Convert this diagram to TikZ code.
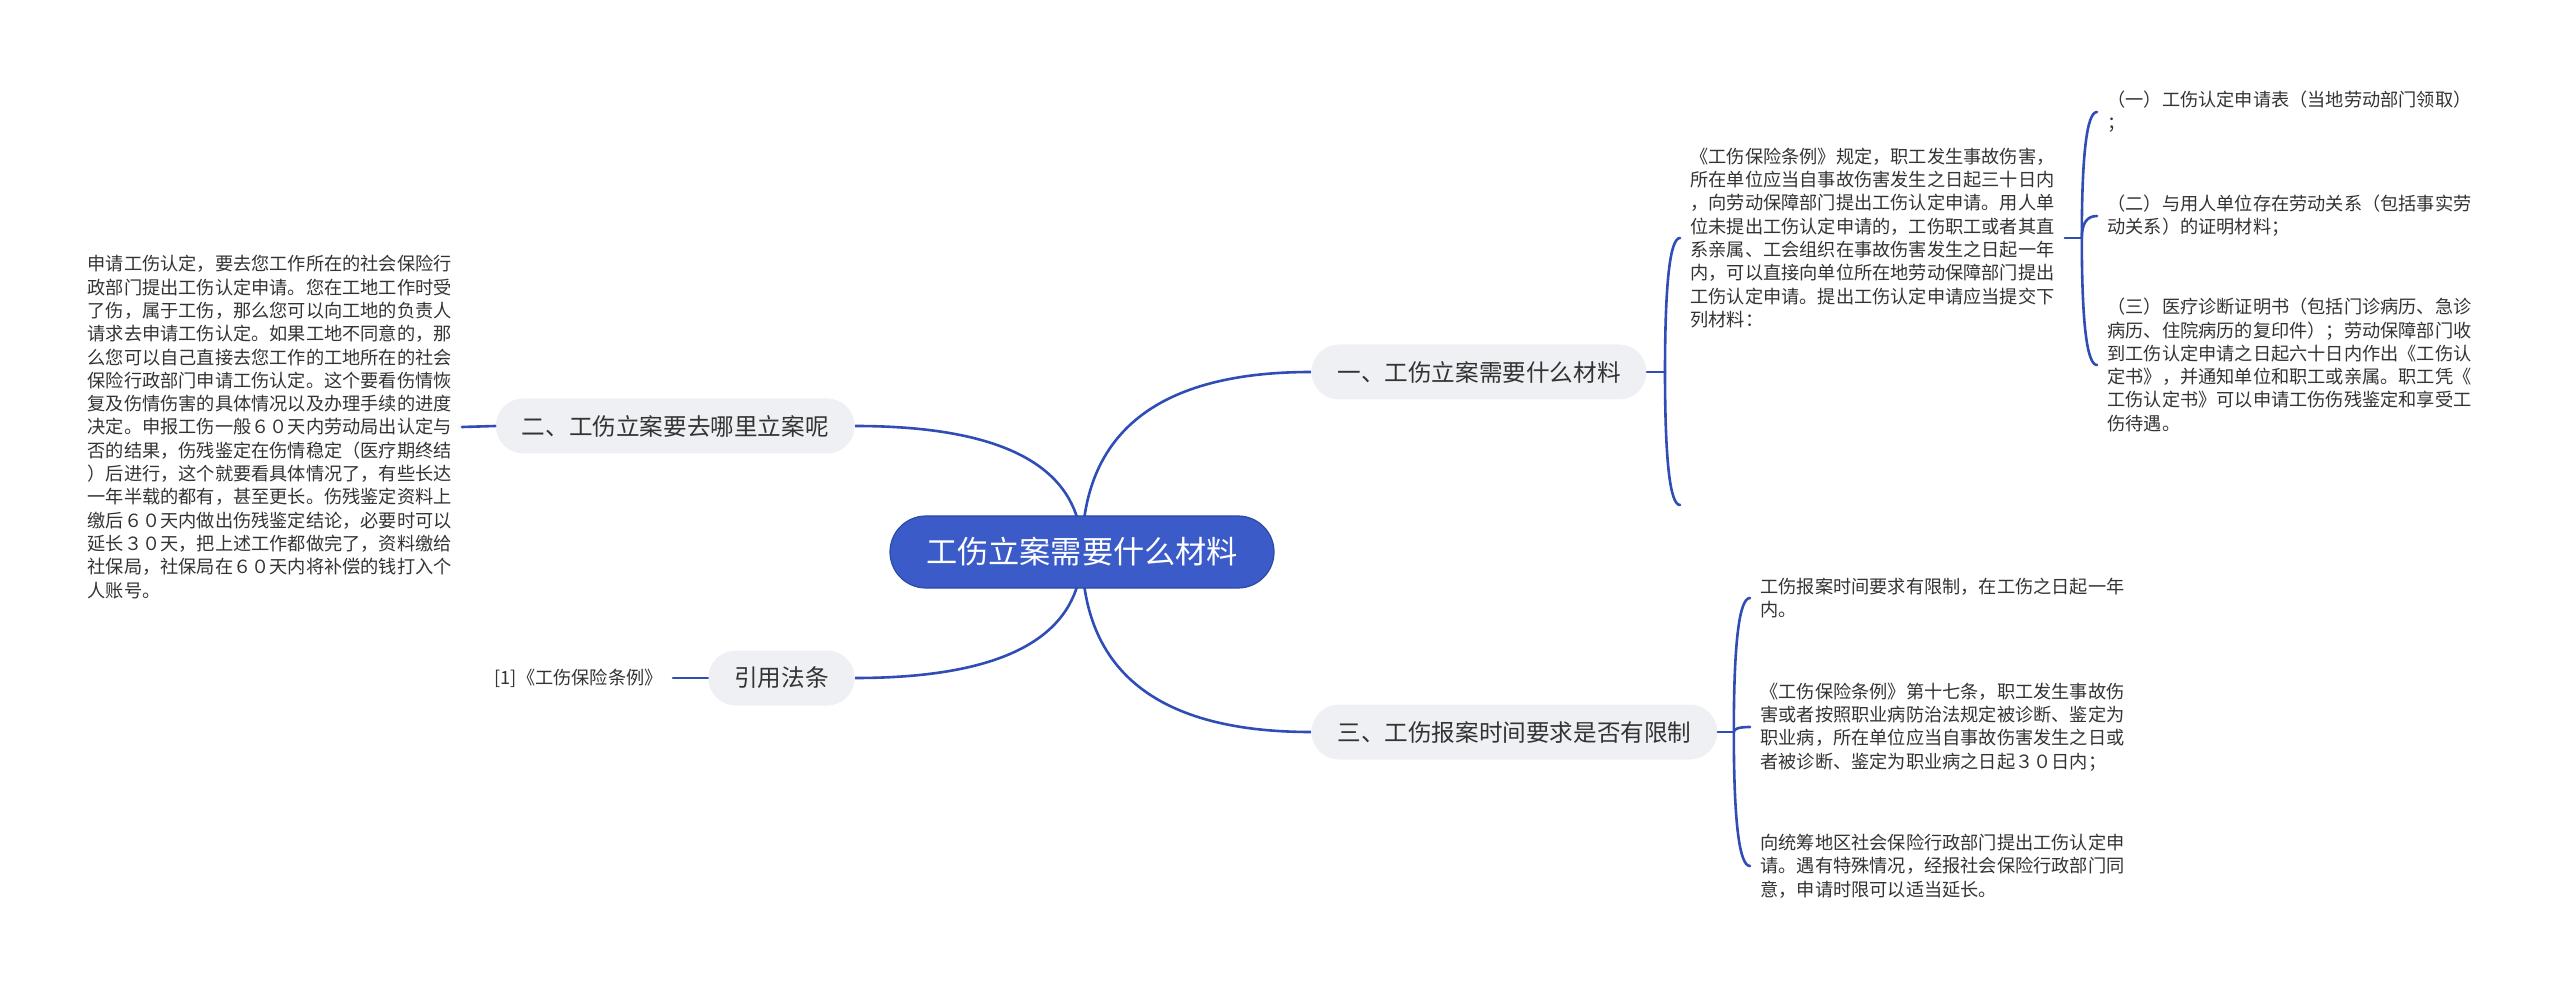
\documentclass[tikz,border=0pt]{standalone}
\usepackage{fontspec}
\newfontfamily\cjk{Noto Sans CJK SC}
\usetikzlibrary{calc,backgrounds}
\definecolor{linkblue}{HTML}{2F4DB4}
\definecolor{rootblue}{HTML}{3B5BC8}
\definecolor{rootedge}{HTML}{2C48A8}
\definecolor{pillgray}{HTML}{EEF0F4}
\definecolor{inkgray}{HTML}{333333}
\tikzset{
  root/.style={rectangle, rounded corners=18pt, fill=rootblue, draw=rootedge, line width=0.6pt,
    text=white, font=\cjk\fontsize{15.6pt}{18pt}\selectfont, minimum height=36pt, inner xsep=18pt, inner ysep=0pt},
  topic/.style={rectangle, rounded corners=13.75pt, fill=pillgray, text=inkgray,
    font=\cjk\fontsize{11.8pt}{14pt}\selectfont, minimum height=27.5pt, inner xsep=13pt, inner ysep=0pt},
  leaf/.style={align=left, text=inkgray, font=\cjk\fontsize{9.1pt}{11.65pt}\selectfont, inner sep=5pt},
  link/.style={draw=linkblue, line width=1.3pt},
  qlink/.style={to path={.. controls ($(\tikztostart)!2/3!(\tikztostart |- \tikztotarget)$)
    and ($(\tikztotarget)!2/3!(\tikztostart |- \tikztotarget)$) .. (\tikztotarget)}}
}
\begin{document}
\begin{tikzpicture}[x=0.5pt,y=-0.5pt,line cap=round,line join=round]
  \useasboundingbox (0,0) rectangle (2560,989);
  \node[root] (root) at (1082,552) {工伤立案需要什么材料};
  \node[topic,anchor=west] (b1) at (1311,372) {一、工伤立案需要什么材料};
  \node[topic,anchor=east] (b2) at (855,426) {二、工伤立案要去哪里立案呢};
  \node[topic,anchor=west] (b3) at (1311,732) {三、工伤报案时间要求是否有限制};
  \node[topic,anchor=east] (b4) at (855,678) {引用法条};
  \begin{scope}[on background layer]
    \draw[link] (root.center) to[qlink] (b1.west);
    \draw[link] (root.center) to[qlink] (b2.east);
    \draw[link] (root.center) to[qlink] (b3.west);
    \draw[link] (root.center) to[qlink] (b4.east);
  \end{scope}

  \node[leaf,anchor=west] (c1) at (1680,238) {《工伤保险条例》规定，职工发生事故伤害，\\所在单位应当自事故伤害发生之日起三十日内\\，向劳动保障部门提出工伤认定申请。用人单\\位未提出工伤认定申请的，工伤职工或者其直\\系亲属、工会组织在事故伤害发生之日起一年\\内，可以直接向单位所在地劳动保障部门提出\\工伤认定申请。提出工伤认定申请应当提交下\\列材料：};
  \coordinate (c1end) at (1680,505);
  \coordinate (f1) at ($(b1.east)+(18,0)$);
  \draw[link] (b1.east) -- (f1);
  \draw[link] (f1) to[qlink] (c1.west);
  \draw[link] (f1) to[qlink] (c1end);

  \node[leaf,anchor=west] (i1) at (2097,112) {（一）工伤认定申请表（当地劳动部门领取）\\；};
  \node[leaf,anchor=west] (i2) at (2097,216) {（二）与用人单位存在劳动关系（包括事实劳\\动关系）的证明材料；};
  \node[leaf,anchor=west] (i3) at (2097,365) {（三）医疗诊断证明书（包括门诊病历、急诊\\病历、住院病历的复印件）；劳动保障部门收\\到工伤认定申请之日起六十日内作出《工伤认\\定书》，并通知单位和职工或亲属。职工凭《\\工伤认定书》可以申请工伤伤残鉴定和享受工\\伤待遇。};
  \coordinate (f2) at ($(c1.east)+(17,0)$);
  \draw[link] (c1.east) -- (f2);
  \draw[link] (f2) to[qlink] (i1.west);
  \draw[link] (f2) to[qlink] (i2.west);
  \draw[link] (f2) to[qlink] (i3.west);

  \node[leaf,anchor=west] (d1) at (1750,598) {工伤报案时间要求有限制，在工伤之日起一年\\内。};
  \node[leaf,anchor=west] (d2) at (1750,727) {《工伤保险条例》第十七条，职工发生事故伤\\害或者按照职业病防治法规定被诊断、鉴定为\\职业病，所在单位应当自事故伤害发生之日或\\者被诊断、鉴定为职业病之日起３０日内；};
  \node[leaf,anchor=west] (d3) at (1750,866) {向统筹地区社会保险行政部门提出工伤认定申\\请。遇有特殊情况，经报社会保险行政部门同\\意，申请时限可以适当延长。};
  \coordinate (f3) at ($(b3.east)+(16,0)$);
  \draw[link] (b3.east) -- (f3);
  \draw[link] (f3) to[qlink] (d1.west);
  \draw[link] (f3) to[qlink] (d2.west);
  \draw[link] (f3) to[qlink] (d3.west);

  \node[leaf,anchor=east] (l1) at (462,427) {申请工伤认定，要去您工作所在的社会保险行\\政部门提出工伤认定申请。您在工地工作时受\\了伤，属于工伤，那么您可以向工地的负责人\\请求去申请工伤认定。如果工地不同意的，那\\么您可以自己直接去您工作的工地所在的社会\\保险行政部门申请工伤认定。这个要看伤情恢\\复及伤情伤害的具体情况以及办理手续的进度\\决定。申报工伤一般６０天内劳动局出认定与\\否的结果，伤残鉴定在伤情稳定（医疗期终结\\）后进行，这个就要看具体情况了，有些长达\\一年半载的都有，甚至更长。伤残鉴定资料上\\缴后６０天内做出伤残鉴定结论，必要时可以\\延长３０天，把上述工作都做完了，资料缴给\\社保局，社保局在６０天内将补偿的钱打入个\\人账号。};
  \draw[link] (b2.west) -- (l1.east);

  \node[leaf,anchor=east] (r1) at (673,678) {[1]《工伤保险条例》};
  \draw[link] (b4.west) -- (r1.east);
\end{tikzpicture}
\end{document}
